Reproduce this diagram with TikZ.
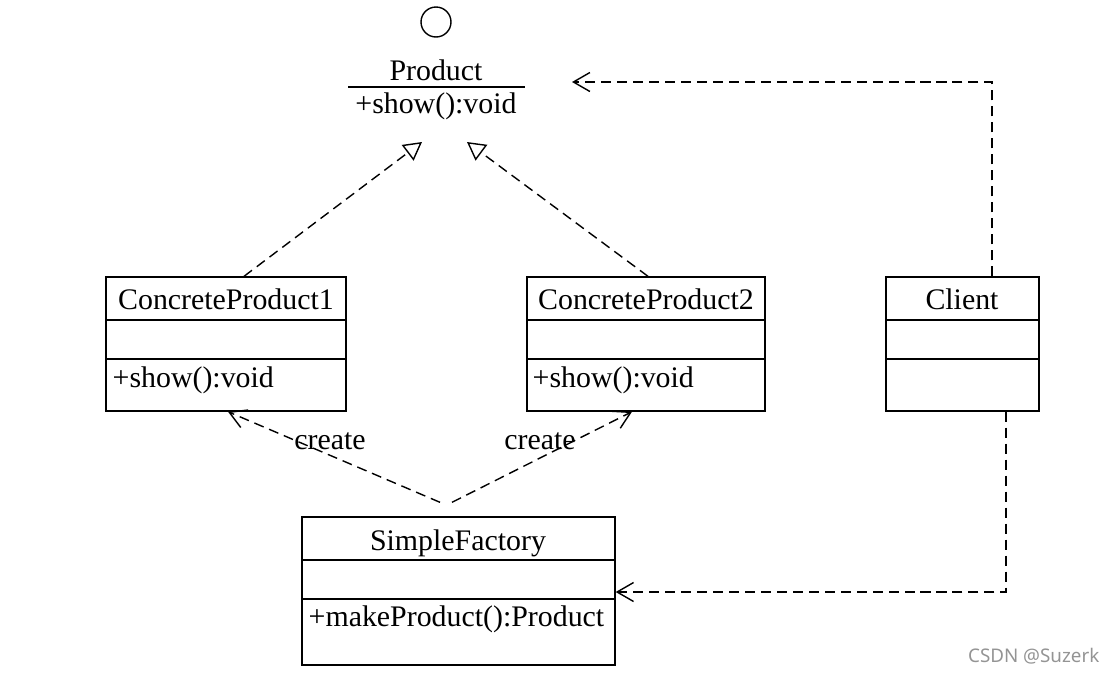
\documentclass[tikz,border=0pt]{standalone}
\usepackage{fontspec}
\setmainfont{Liberation Serif}
\newfontfamily\wmfont{Noto Sans}
\usetikzlibrary{arrows.meta}

\begin{document}
\begin{tikzpicture}[x=0.02cm,y=-0.02cm,
                    font=\fontsize{17}{20}\selectfont,
                    line width=0.8pt,
                    classbox/.style={draw,rectangle,inner sep=0pt},
                    txt/.style={inner sep=0pt},
                    dependency/.style={dash pattern=on 5.7pt off 3.4pt,-{Straight Barb[length=3.3mm,width=3.8mm]}},
                    realize/.style={dash pattern=on 5.7pt off 3.4pt,-{Triangle[open,length=3.6mm,width=3.9mm]}}]
                    \useasboundingbox (0,0) rectangle (1115,674);
                    % Interface
                    \draw (436,22) node[circle,draw,minimum size=0.6cm,inner sep=0pt] (PI) {};
                    \node[txt] (P) at (436,70) {Product};
                    \node[txt] (Pm) at (436,106) {+show():void};
                    \draw (348,87) -- (525,87);
                    \coordinate (PL) at (422,142);
                    \coordinate (PR) at (467,142);
                    \coordinate (PC) at (572,82);
                    % Product 1
                    \node[classbox,minimum width=4.8cm,minimum height=2.68cm] (CP1) at (226,344) {};
                    \node[txt] (CP1n) at (226,299) {ConcreteProduct1};
                    \node[txt,anchor=west] (CP1m) at (112,380) {+show():void};
                    \draw (CP1.west |- 0,320) -- (CP1.east |- 0,320);
                    \draw (CP1.west |- 0,359) -- (CP1.east |- 0,359);
                    % Product 2
                    \node[classbox,minimum width=4.76cm,minimum height=2.68cm] (CP2) at (646,344) {};
                    \node[txt] (CP2n) at (646,299) {ConcreteProduct2};
                    \node[txt,anchor=west] (CP2m) at (532,380) {+show():void};
                    \draw (CP2.west |- 0,320) -- (CP2.east |- 0,320);
                    \draw (CP2.west |- 0,359) -- (CP2.east |- 0,359);
                    % Client
                    \node[classbox,minimum width=3.06cm,minimum height=2.68cm] (CL) at (962.5,344) {};
                    \node[txt] (CLn) at (962,299) {Client};
                    \draw (CL.west |- 0,320) -- (CL.east |- 0,320);
                    \draw (CL.west |- 0,359) -- (CL.east |- 0,359);
                    % Factory
                    \node[classbox,minimum width=6.26cm,minimum height=2.96cm] (SF) at (458.5,591) {};
                    \node[txt] (SFn) at (458,543) {SimpleFactory};
                    \node[txt,anchor=west] (SFm) at (308,619) {+makeProduct():Product};
                    \draw (SF.west |- 0,560) -- (SF.east |- 0,560);
                    \draw (SF.west |- 0,599) -- (SF.east |- 0,599);
                    % Links
                    \draw [realize] (CP1.north -| 244,0) -- (PL);
                    \draw [realize] (CP2.north -| 648,0) -- (PR);
                    \draw [dependency] (SF.north -| 440,0) ++(0,-14) -- (CP1.south -| 228,0);
                    \draw [dependency] (SF.north -| 452,0) ++(0,-14) -- (CP2.south -| 632,0);
                    \node[txt] (C1) at (330,441) {create};
                    \node[txt] (C2) at (540,441) {create};
                    \draw [dependency] (CL.north -| 992,0) |- (PC);
                    \draw [dependency] (CL.south -| 1006,0) |- (SF.east |- 0,592);
                    % Mark
                    \node[txt,anchor=east,text=black!42,font=\wmfont\fontsize{10.7}{13}\selectfont] (WM) at (1100,656) {CSDN @Suzerk};
                \end{tikzpicture}
\end{document}
